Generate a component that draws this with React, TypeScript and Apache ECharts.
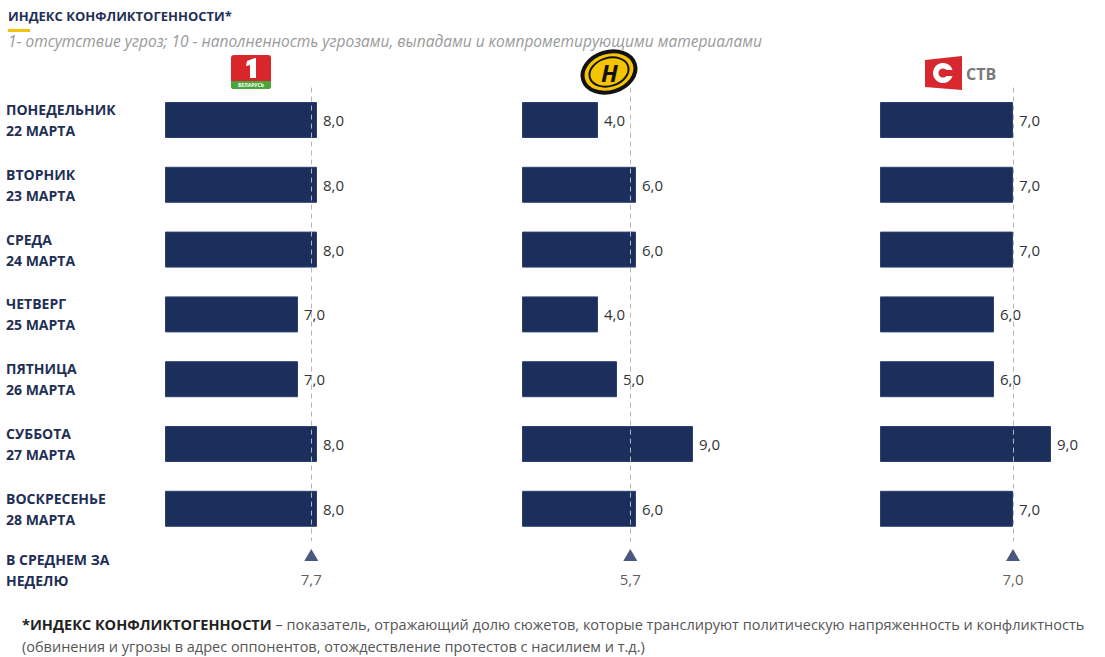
import React, { useEffect, useRef } from "react";
import * as echarts from "echarts";

const days = [
  "ПОНЕДЕЛЬНИК\n22 МАРТА",
  "ВТОРНИК\n23 МАРТА",
  "СРЕДА\n24 МАРТА",
  "ЧЕТВЕРГ\n25 МАРТА",
  "ПЯТНИЦА\n26 МАРТА",
  "СУББОТА\n27 МАРТА",
  "ВОСКРЕСЕНЬЕ\n28 МАРТА",
];
const avgCategory = ["В СРЕДНЕМ ЗА\nНЕДЕЛЮ"];
const belarus1 = [8, 8, 8, 7, 7, 8, 8];
const ont = [4, 6, 6, 4, 5, 9, 6];
const stv = [7, 7, 7, 6, 6, 9, 7];
const averages = [7.7, 5.7, 7.0];
const channels = [belarus1, ont, stv];

const titleText = "ИНДЕКС КОНФЛИКТОГЕННОСТИ*";
const subtitleText =
  "1- отсутствие угроз; 10 - наполненность угрозами, выпадами и компрометирующими материалами";
const noteBold = "*ИНДЕКС КОНФЛИКТОГЕННОСТИ";
const noteRest =
  " – показатель, отражающий долю сюжетов, которые транслируют политическую напряженность и конфликтность";
const noteLine2 =
  "(обвинения и угрозы в адрес оппонентов, отождествление протестов с насилием и т.д.)";

const NAVY = "#1c2f5c";
const FONT = "'Open Sans', 'Noto Sans', sans-serif";
const fmt = (v: number) => v.toFixed(1).replace(".", ",");

export default function App() {
  const ref = useRef<HTMLDivElement>(null);
  useEffect(() => {
    document.body.style.margin = "0";
    if (!ref.current) return;
    const chart = echarts.init(ref.current, undefined, { renderer: "svg" });
    const lefts = [165, 522, 880];
    const grids: any[] = [];
    const xAxes: any[] = [];
    const yAxes: any[] = [];
    const series: any[] = [];
    lefts.forEach((left, i) => {
      grids.push({ left, top: 87.6, width: 190, height: 453.6 });
      grids.push({ left, top: 545, width: 190, height: 50 });
      [0, 1].forEach((k) => {
        xAxes.push({
          type: "value",
          gridIndex: i * 2 + k,
          min: 0,
          max: 10,
          show: false,
        });
      });
      const labelStyle = {
        show: i === 0,
        align: "left",
        margin: 159,
        color: "#1f2f55",
        fontWeight: "bold",
        fontSize: 14,
        lineHeight: 21,
        fontFamily: FONT,
      };
      yAxes.push({
        type: "category",
        gridIndex: i * 2,
        data: days,
        inverse: true,
        axisLine: { show: false },
        axisTick: { show: false },
        axisLabel: labelStyle,
      });
      yAxes.push({
        type: "category",
        gridIndex: i * 2 + 1,
        data: avgCategory,
        axisLine: { show: false },
        axisTick: { show: false },
        axisLabel: labelStyle,
      });
      series.push({
        type: "bar",
        xAxisIndex: i * 2,
        yAxisIndex: i * 2,
        data: channels[i],
        barWidth: 36,
        itemStyle: { color: NAVY, borderColor: "#2c4170", borderWidth: 1 },
        label: {
          show: true,
          position: "right",
          distance: 6,
          color: "#333",
          fontSize: 15,
          fontFamily: FONT,
          formatter: (p: any) => fmt(p.value),
        },
        markLine: {
          silent: true,
          symbol: "none",
          label: { show: false },
          lineStyle: { type: [5, 4], color: "#b5b5b5", width: 1 },
          data: [{ xAxis: averages[i] }],
        },
        z: 3,
      });
      series.push({
        type: "scatter",
        xAxisIndex: i * 2 + 1,
        yAxisIndex: i * 2 + 1,
        data: [[averages[i], 0]],
        symbol: "triangle",
        symbolSize: [14, 12],
        symbolOffset: [0, -15],
        itemStyle: { color: NAVY },
        label: {
          show: true,
          position: "bottom",
          distance: 10,
          color: "#333",
          fontSize: 15,
          fontFamily: FONT,
          formatter: (p: any) => fmt(p.value[0]),
        },
      });
    });

    const graphic: any[] = [
      {
        type: "text",
        left: 8,
        top: 9,
        style: {
          text: titleText,
          fill: "#1f2f55",
          font: `bold 13px ${FONT}`,
        },
      },
      { type: "rect", shape: { x: 8, y: 29, width: 22, height: 3 }, style: { fill: "#f2c500" } },
      {
        type: "text",
        left: 8,
        top: 33,
        style: {
          text: subtitleText,
          fill: "#9a9a9a",
          font: `italic 15.5px ${FONT}`,
        },
      },
      // Belarus 1 logo
      {
        type: "group",
        x: 231,
        y: 55,
        children: [
          { type: "rect", shape: { x: 0, y: 0, width: 40, height: 34, r: 3 }, style: { fill: "#d8262b" } },
          { type: "rect", shape: { x: 0, y: 26, width: 40, height: 8, r: [0, 0, 3, 3] }, style: { fill: "#4aa53a" } },
          {
            type: "polygon",
            shape: { points: [[16, 6], [24, 3], [25, 3], [25, 23], [19, 23], [19, 10], [15, 11]] },
            style: { fill: "#fff" },
          },
          {
            type: "text",
            x: 20,
            y: 30,
            style: { text: "БЕЛАРУСЬ", fill: "#fff", font: `bold 5px ${FONT}`, align: "center", verticalAlign: "middle" },
          },
        ],
      },
      // ONT logo
      {
        type: "group",
        x: 609,
        y: 72,
        rotation: 0.3,
        children: [
          { type: "ellipse", shape: { cx: 0, cy: 0, rx: 27, ry: 20 }, style: { fill: "#f5c400", stroke: "#111", lineWidth: 4 } },
          { type: "ellipse", shape: { cx: 0, cy: 0, rx: 20, ry: 14 }, style: { fill: "none", stroke: "#111", lineWidth: 2 } },
          {
            type: "text",
            x: 0,
            y: 1,
            rotation: -0.3,
            style: { text: "H", fill: "#111", font: `italic bold 24px ${FONT}`, align: "center", verticalAlign: "middle" },
          },
        ],
      },
      // STV logo
      {
        type: "polygon",
        shape: { points: [[925, 60], [962, 56], [962, 90], [925, 87]] },
        style: { fill: "#d7282f" },
      },
      { type: "circle", shape: { cx: 943, cy: 73, r: 10 }, style: { fill: "#fff" } },
      { type: "circle", shape: { cx: 943, cy: 73, r: 4.5 }, style: { fill: "#d7282f" } },
      { type: "rect", shape: { x: 945, y: 70, width: 10, height: 6 }, style: { fill: "#d7282f" } },
      {
        type: "text",
        x: 966,
        y: 74,
        style: { text: "СТВ", fill: "#7a7a7a", font: `bold 16px ${FONT}`, verticalAlign: "middle" },
      },
      // footnote
      {
        type: "text",
        left: 22,
        top: 617,
        style: {
          text: `{b|${noteBold}}{n|${noteRest}}`,
          rich: {
            b: { fill: "#222", font: `bold 14.5px ${FONT}` },
            n: { fill: "#555", font: `14.5px ${FONT}` },
          },
        },
      },
      {
        type: "text",
        left: 22,
        top: 639,
        style: { text: noteLine2, fill: "#555", font: `14.5px ${FONT}` },
      },
    ];

    chart.setOption({
      animation: false,
      backgroundColor: "#fff",
      grid: grids,
      xAxis: xAxes,
      yAxis: yAxes,
      series,
      graphic,
    });
    return () => chart.dispose();
  }, []);
  return <div ref={ref} style={{ width: 1105, height: 657 }} />;
}
